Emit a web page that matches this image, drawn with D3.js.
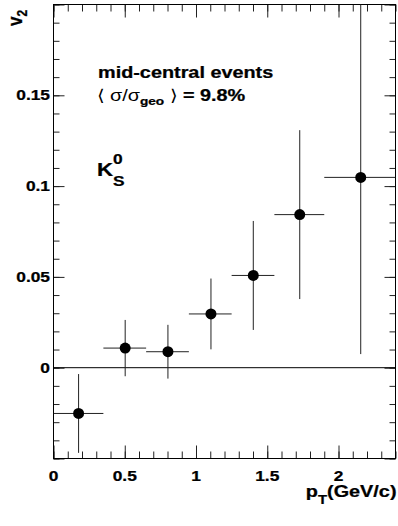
<!DOCTYPE html>
<html>
<head>
<meta charset="utf-8">
<script src="https://cdn.jsdelivr.net/npm/d3@7.9.0/dist/d3.min.js"></script>
<style>
  body { margin: 0; background: #fff; }
  svg { display: block; }
  text { font-family: "Liberation Sans", Arial, sans-serif; font-weight: bold; fill: #000; stroke: #000; stroke-width: 0.25; }
</style>
</head>
<body>
<svg id="chart" width="398" height="526"></svg>
<script>
// K0s v2 vs pT, mid-central events
const pt = [0.176, 0.503, 0.803, 1.105, 1.402, 1.728, 2.156];
const v2 = [-0.0252, 0.0108, 0.0088, 0.0296, 0.0508, 0.0843, 0.1048];
const v2Err = [0.0217, 0.0155, 0.0148, 0.0195, 0.03, 0.0465, 0.0973];
const binLo = [0, 0.35, 0.65, 0.95, 1.25, 1.55, 1.9];
const binHi = [0.35, 0.65, 0.95, 1.25, 1.55, 1.9, 2.4];

const xMajor = [0, 0.5, 1, 1.5, 2];
const yMajor = [-0.05, 0, 0.05, 0.1, 0.15, 0.2];
const yLabels = [0, 0.05, 0.1, 0.15];

const points = pt.map((d, i) => ({
  pt: d, v2: v2[i], err: v2Err[i], lo: binLo[i], hi: binHi[i],
}));

const stretch = 1.24; // the original is wider than tall

const svg = d3.select("#chart");
const pLeft = 53.5, pRight = 395.5, pTop = 4.5, pBottom = 458.5;

const x = d3.scaleLinear().domain([0, 2.4]).range([pLeft, pRight]);
const y = d3.scaleLinear().domain([-0.05, 0.2]).range([pBottom, pTop]);

const xMinor = d3.range(0, 2.41, 0.1).map((d) => +d.toFixed(2));
const yMinor = d3.range(-0.05, 0.2001, 0.01).map((d) => +d.toFixed(3));
const fmt = (d) => String(+d.toFixed(3));

svg.append("clipPath").attr("id", "clip")
  .append("rect")
  .attr("x", pLeft).attr("y", pTop)
  .attr("width", pRight - pLeft).attr("height", pBottom - pTop);

// ticks, all pointing into the frame
function ticks(axis, values, size, transform) {
  svg.append("g")
    .attr("transform", transform)
    .call(axis.tickValues(values).tickSizeInner(size).tickSizeOuter(0).tickFormat(""))
    .call((g) => g.select(".domain").remove())
    .selectAll("line").attr("stroke", "#222");
}

ticks(d3.axisBottom(x), xMinor, -7, `translate(0,${pBottom})`);
ticks(d3.axisBottom(x), xMajor, -13, `translate(0,${pBottom})`);
ticks(d3.axisTop(x), xMinor, -7, `translate(0,${pTop})`);
ticks(d3.axisTop(x), xMajor, -13, `translate(0,${pTop})`);
ticks(d3.axisLeft(y), yMinor, -6, `translate(${pLeft},0)`);
ticks(d3.axisLeft(y), yMajor, -11, `translate(${pLeft},0)`);
ticks(d3.axisRight(y), yMinor, -6, `translate(${pRight},0)`);
ticks(d3.axisRight(y), yMajor, -11, `translate(${pRight},0)`);

// frame
svg.append("rect")
  .attr("x", pLeft).attr("y", pTop)
  .attr("width", pRight - pLeft).attr("height", pBottom - pTop)
  .attr("fill", "none").attr("stroke", "#000").attr("stroke-width", 1);

// tick labels
svg.append("g").selectAll("text")
  .data(xMajor)
  .join("text")
  .attr("transform", (d) => `translate(${x(d)},${pBottom + 22.5}) scale(${stretch},1)`)
  .attr("text-anchor", "middle")
  .attr("font-size", 14)
  .text(fmt);

svg.append("g").selectAll("text")
  .data(yLabels)
  .join("text")
  .attr("transform", (d) => `translate(${pLeft - 3.5},${y(d) + 5}) scale(${stretch},1)`)
  .attr("text-anchor", "end")
  .attr("font-size", 14)
  .text(fmt);

// zero line
svg.append("line")
  .attr("x1", pLeft).attr("x2", pRight)
  .attr("y1", y(0)).attr("y2", y(0))
  .attr("stroke", "#000").attr("stroke-width", 1);

// error bars and markers
const marks = svg.append("g").attr("clip-path", "url(#clip)");

marks.selectAll(".ex")
  .data(points)
  .join("line")
  .attr("class", "ex")
  .attr("x1", (d) => x(d.lo)).attr("x2", (d) => x(d.hi))
  .attr("y1", (d) => y(d.v2)).attr("y2", (d) => y(d.v2))
  .attr("stroke", "#222").attr("stroke-width", 1);

marks.selectAll(".ey")
  .data(points)
  .join("line")
  .attr("class", "ey")
  .attr("x1", (d) => x(d.pt)).attr("x2", (d) => x(d.pt))
  .attr("y1", (d) => y(d.v2 - d.err)).attr("y2", (d) => y(d.v2 + d.err))
  .attr("stroke", "#222").attr("stroke-width", 1);

marks.selectAll("circle")
  .data(points)
  .join("circle")
  .attr("cx", (d) => x(d.pt)).attr("cy", (d) => y(d.v2))
  .attr("r", 5.5)
  .attr("fill", "#000");

// annotations
svg.append("text")
  .attr("transform", `translate(98,78.3) scale(${stretch},1)`)
  .attr("font-size", 16)
  .text("mid-central events");

const t2 = svg.append("text")
  .attr("transform", `translate(96.7,101) scale(${stretch},1)`)
  .attr("font-size", 16);
t2.append("tspan").attr("font-weight", "normal").attr("stroke-width", 0).text("\u27e8 \u03c3/\u03c3");
t2.append("tspan").attr("font-size", 11).attr("dy", 4).text("geo");
t2.append("tspan").attr("font-weight", "normal").attr("stroke-width", 0).attr("dy", -4).text(" \u27e9");
t2.append("tspan").text(" = 9.8%");

const k = svg.append("text")
  .attr("transform", `translate(97,176) scale(${stretch},1)`)
  .attr("font-size", 18);
k.append("tspan").text("K");
k.append("tspan").attr("font-size", 14).attr("dy", -12.5).text("0");
k.append("tspan").attr("font-size", 14).attr("dx", -7.8).attr("dy", 22.5).text("S");

// axis titles
const yt = svg.append("text")
  .attr("transform", `translate(22,26) scale(${stretch},1) rotate(-90)`)
  .attr("font-size", 17);
yt.append("tspan").text("v");
yt.append("tspan").attr("font-size", 12).attr("dy", 4).text("2");

const xt = svg.append("text")
  .attr("transform", `translate(396.5,497) scale(${stretch},1)`)
  .attr("text-anchor", "end")
  .attr("font-size", 16);
xt.append("tspan").text("p");
xt.append("tspan").attr("font-size", 12).attr("dy", 7).text("T");
xt.append("tspan").attr("dy", -7).text("(GeV/c)");
</script>
</body>
</html>
